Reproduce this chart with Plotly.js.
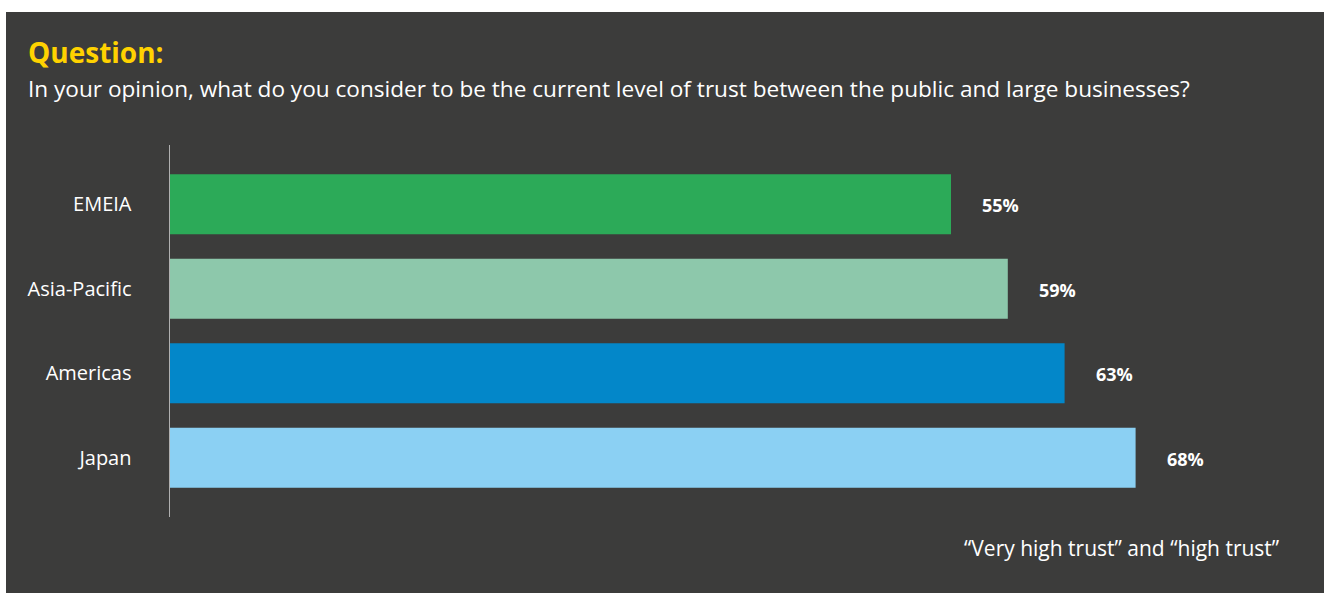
<!DOCTYPE html>
<html>
<head>
<meta charset="utf-8">
<script src="https://cdn.plot.ly/plotly-3.0.1.min.js"></script>
<style>
html,body{margin:0;padding:0;background:#ffffff;width:1324px;height:593px;overflow:hidden;}
#chart{position:absolute;left:6px;top:12px;width:1318px;height:581px;}
</style>
</head>
<body>
<div id="chart"></div>
<script>
const regions = ["EMEIA", "Asia-Pacific", "Americas", "Japan"];
const trustPct = [55, 59, 63, 68];
const barColors = ["#2caa58", "#8dc8ab", "#0387c9", "#8bd0f3"];
const titleText = "Question:";
const subtitleText = "In your opinion, what do you consider to be the current level of trust between the public and large businesses?";
const noteText = "\u201cVery high trust\u201d and \u201chigh trust\u201d";

const trace = {
  type: "bar",
  orientation: "h",
  y: regions,
  x: trustPct,
  marker: {color: barColors},
  width: 0.71,
  hoverinfo: "none"
};

const annotations = regions.map((r, i) => ({
  x: trustPct[i], y: r, xref: "x", yref: "y",
  text: "<b>" + trustPct[i] + "%</b>",
  showarrow: false, xanchor: "left", xshift: 29, yshift: -1,
  font: {family: "Open Sans, sans-serif", size: 18, color: "#ffffff"}
}));

annotations.push({
  xref: "paper", yref: "paper", x: -0.127, y: 1.25, xanchor: "left", yanchor: "middle",
  text: "<b>" + titleText + "</b>", showarrow: false,
  font: {family: "Open Sans, sans-serif", size: 28, color: "#ffd200"}
});
annotations.push({
  xref: "paper", yref: "paper", x: -0.127, y: 1.153, xanchor: "left", yanchor: "middle",
  text: subtitleText, showarrow: false,
  font: {family: "Open Sans, sans-serif", size: 22.6, color: "#ffffff"}
});
annotations.push({
  xref: "paper", yref: "paper", x: 0.979, y: -0.083, xanchor: "right", yanchor: "middle",
  text: noteText, showarrow: false,
  font: {family: "Open Sans, sans-serif", size: 21, color: "#ffffff"}
});

const layout = {
  width: 1318, height: 581,
  paper_bgcolor: "#3c3c3b", plot_bgcolor: "#3c3c3b",
  margin: {l: 164, r: 18, t: 133, b: 76},
  showlegend: false,
  xaxis: {range: [0, 80], visible: false, fixedrange: true},
  yaxis: {
    type: "category", categoryorder: "array", categoryarray: regions,
    range: [3.7, -0.7], showgrid: false, zeroline: false,
    showline: true, linecolor: "#b0b0b0", linewidth: 1.5,
    ticks: "outside", ticklen: 33, tickcolor: "rgba(0,0,0,0)",
    tickfont: {family: "Open Sans, sans-serif", size: 20, color: "#ffffff"},
    fixedrange: true
  },
  annotations: annotations
};

Plotly.newPlot("chart", [trace], layout, {displayModeBar: false, staticPlot: true});
</script>
</body>
</html>
